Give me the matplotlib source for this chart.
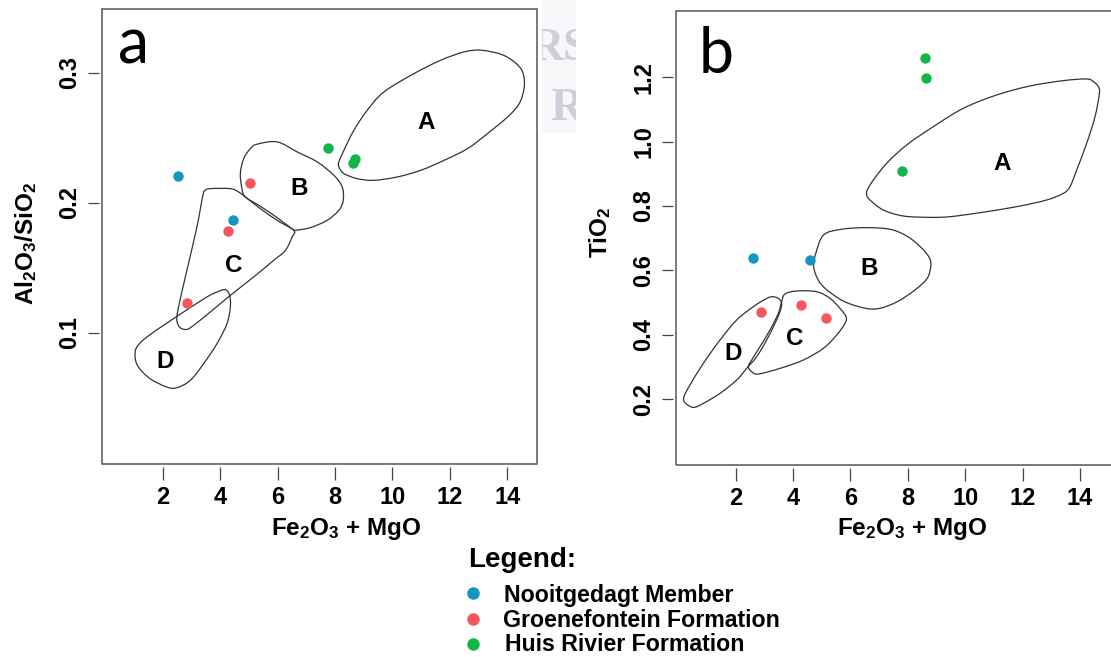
import numpy as np
import matplotlib
matplotlib.use('Agg')
import matplotlib.pyplot as plt
from matplotlib.path import Path
from matplotlib.patches import PathPatch, Rectangle
from matplotlib.lines import Line2D
from matplotlib.transforms import Bbox, TransformedBbox

plt.rcParams['font.family'] = ['Liberation Sans', 'DejaVu Sans']
plt.rcParams['mathtext.fontset'] = 'custom'
plt.rcParams['mathtext.rm'] = 'Liberation Sans:bold'
plt.rcParams['mathtext.bf'] = 'Liberation Sans:bold'
plt.rcParams['mathtext.it'] = 'Liberation Sans:bold'
plt.rcParams['mathtext.default'] = 'rm'

# ---------------- data ----------------
series_names = ['Nooitgedagt Member', 'Groenefontein Formation', 'Huis Rivier Formation']
series_colors = ['#1596bf', '#f4575c', '#10b748']

x_ticks = [2, 4, 6, 8, 10, 12, 14]
a_yticks = [0.1, 0.2, 0.3]
b_yticks = [0.2, 0.4, 0.6, 0.8, 1.0, 1.2]

# panel a : Al2O3/SiO2 vs Fe2O3+MgO
a_nooit_x = [2.52, 4.44]
a_nooit_y = [0.2205, 0.1867]
a_groen_x = [5.05, 4.29, 2.83]
a_groen_y = [0.2149, 0.1782, 0.1226]
a_huis_x = [7.77, 8.70, 8.63]
a_huis_y = [0.2423, 0.2341, 0.2308]

# panel b : TiO2 vs Fe2O3+MgO
b_nooit_x = [2.60, 4.59]
b_nooit_y = [0.637, 0.632]
b_groen_x = [2.87, 4.29, 5.15]
b_groen_y = [0.471, 0.492, 0.451]
b_huis_x = [8.59, 8.63, 7.78]
b_huis_y = [1.261, 1.197, 0.910]

# field outlines (data coordinates)
a_field_A = [(8.136, 0.2276), (8.310, 0.2225), (8.775, 0.2186), (9.357, 0.2173), (10.171, 0.2199),
             (10.985, 0.2250), (11.799, 0.2327), (12.613, 0.2417), (13.311, 0.2533), (14.009, 0.2661),
             (14.416, 0.2764), (14.590, 0.2892), (14.532, 0.3008), (14.242, 0.3085), (13.776, 0.3144),
             (13.079, 0.3175), (12.497, 0.3162), (11.683, 0.3098), (10.752, 0.2995), (9.706, 0.2854),
             (9.124, 0.2713), (8.659, 0.2559), (8.310, 0.2404), (8.136, 0.2315)]
a_field_B = [(5.285, 0.2451), (5.983, 0.2469), (6.681, 0.2392), (7.379, 0.2315), (7.960, 0.2212),
             (8.251, 0.2122), (8.286, 0.2019), (8.135, 0.1942), (7.728, 0.1865), (7.146, 0.1809),
             (6.623, 0.1788), (6.542, 0.1793), (5.983, 0.1886), (5.402, 0.1973), (4.878, 0.2045),
             (4.762, 0.2109), (4.704, 0.2225), (4.820, 0.2340), (5.053, 0.2417)]
a_field_C = [(3.483, 0.2096), (3.657, 0.2109), (4.355, 0.2109), (4.646, 0.2083), (4.878, 0.2045),
             (5.402, 0.1955), (5.983, 0.1865), (6.565, 0.1788), (6.507, 0.1737), (6.274, 0.1634),
             (5.867, 0.1557), (5.169, 0.1429), (4.355, 0.1287), (3.657, 0.1159), (3.076, 0.1056),
             (2.843, 0.1025), (2.610, 0.1038), (2.494, 0.1095), (2.552, 0.1197), (2.843, 0.1480),
             (3.192, 0.1814), (3.401, 0.2058)]
a_field_D = [(4.180, 0.1331), (4.332, 0.1287), (4.355, 0.1197), (4.239, 0.1069), (3.890, 0.0915),
             (3.425, 0.0761), (2.959, 0.0632), (2.494, 0.0576), (2.145, 0.0581), (1.564, 0.0645),
             (1.157, 0.0735), (1.040, 0.0812), (1.098, 0.0889), (1.447, 0.0966), (2.029, 0.1056),
             (2.727, 0.1159), (3.541, 0.1275), (3.890, 0.1313)]

b_field_A = [(6.565, 0.8342), (6.681, 0.8186), (7.146, 0.7875), (7.843, 0.7689), (8.773, 0.7647),
             (9.470, 0.7668), (10.515, 0.7792), (11.793, 0.7979), (12.839, 0.8186), (13.420, 0.8393),
             (13.652, 0.8601), (13.885, 0.9119), (14.233, 0.9948), (14.524, 1.0777), (14.675, 1.1502),
             (14.640, 1.1709), (14.466, 1.1865), (14.233, 1.1947), (13.420, 1.1896), (12.258, 1.1730),
             (11.096, 1.1450), (9.934, 1.1036), (8.889, 1.0466), (7.959, 0.9896), (7.262, 0.9326),
             (6.798, 0.8808), (6.588, 0.8497)]
b_field_B = [(5.062, 0.7098), (5.674, 0.7274), (6.531, 0.7326), (7.389, 0.7274), (8.001, 0.7046),
             (8.491, 0.6683), (8.760, 0.6373), (8.797, 0.6114), (8.674, 0.5751), (8.246, 0.5388),
             (7.633, 0.5026), (7.021, 0.4819), (6.531, 0.4819), (5.796, 0.5026), (5.184, 0.5388),
             (4.878, 0.5699), (4.719, 0.6114), (4.792, 0.6528)]
b_field_C = [(3.718, 0.5264), (4.125, 0.5357), (4.822, 0.5336), (5.287, 0.5129), (5.635, 0.4818),
             (5.845, 0.4559), (5.810, 0.4352), (5.519, 0.3989), (5.054, 0.3575), (4.357, 0.3212),
             (3.544, 0.2953), (2.789, 0.2777), (2.557, 0.2850), (2.440, 0.3005), (2.557, 0.3212),
             (2.847, 0.3627), (3.196, 0.4145), (3.486, 0.4663), (3.602, 0.5026)]
b_field_D = [(3.254, 0.5181), (3.486, 0.5129), (3.602, 0.4974), (3.544, 0.4715), (3.370, 0.4352),
             (3.079, 0.3834), (2.731, 0.3316), (2.382, 0.2953), (2.034, 0.2590), (1.453, 0.2176),
             (0.872, 0.1865), (0.523, 0.1741), (0.233, 0.1886), (0.198, 0.2072), (0.407, 0.2435),
             (0.872, 0.3109), (1.453, 0.3834), (2.034, 0.4456), (2.615, 0.4870), (3.021, 0.5098)]

field_names = ['A', 'B', 'C', 'D']
a_label_x = [11.19, 6.74, 4.47, 2.09]
a_label_y = [0.2615, 0.2109, 0.1518, 0.0774]
b_label_x = [11.28, 6.66, 4.07, 1.92]
b_label_y = [0.933, 0.606, 0.389, 0.342]

# ---------------- figure ----------------
W, H = 1111, 657
fig = plt.figure(figsize=(W / 100, H / 100), dpi=100)
fig.patch.set_facecolor('white')


def fx(px):
    return px / W


def fy(py):
    return 1 - py / H


def smooth_closed_path(pts):
    P = np.asarray(pts, float)
    n = len(P)
    verts = [P[0]]
    codes = [Path.MOVETO]
    for i in range(n):
        p0 = P[(i - 1) % n]
        p1 = P[i]
        p2 = P[(i + 1) % n]
        p3 = P[(i + 2) % n]
        c1 = p1 + (p2 - p0) / 6.0
        c2 = p2 - (p3 - p1) / 6.0
        verts += [c1, c2, p2]
        codes += [Path.CURVE4] * 3
    return Path(verts, codes)


def setup(ax, xlim, ylim, yticks, yfmt):
    ax.set_xlim(xlim)
    ax.set_ylim(ylim)
    for s in ax.spines.values():
        s.set_visible(False)
    ax.spines['bottom'].set_position(('outward', 2.2))
    ax.spines['left'].set_position(('outward', 2.2))
    ax.set_xticks(x_ticks)
    ax.set_xticklabels([str(t) for t in x_ticks])
    ax.set_yticks(yticks)
    ax.set_yticklabels([yfmt.format(t) for t in yticks], rotation=90, va='center')
    ax.tick_params(axis='x', length=9.4, width=0.9, color='#444444', pad=4.5, labelsize=17)
    ax.tick_params(axis='y', length=7.9, width=0.9, color='#444444', pad=5.0, labelsize=17)
    for lbl in ax.get_xticklabels() + ax.get_yticklabels():
        lbl.set_fontweight('bold')
    ax.add_patch(Rectangle((0, 0), 1, 1, transform=ax.transAxes, fill=False,
                           ec='#555555', lw=1.1, clip_on=False, zorder=5))


def draw_panel(ax, fields, lx, ly, series):
    for f in fields:
        ax.add_patch(PathPatch(smooth_closed_path(f), fill=False, ec='#333333', lw=0.9, zorder=2))
    for name, x, y in zip(field_names, lx, ly):
        ax.text(x, y, name, ha='center', va='center', fontsize=17.5, fontweight='bold', zorder=3)
    for (xs, ys), c in zip(series, series_colors):
        ax.plot(xs, ys, 'o', ms=6.5, color=c, mec=c, zorder=4)


# panel a
ax1 = fig.add_axes([fx(101.8), fy(463.8), fx(536.6) - fx(101.8), fy(9.3) - fy(463.8)])
setup(ax1, (-0.12, 15.02), (-0.001, 0.349), a_yticks, '{:.1f}')
draw_panel(ax1, [a_field_A, a_field_B, a_field_C, a_field_D], a_label_x, a_label_y,
           [(a_nooit_x, a_nooit_y), (a_groen_x, a_groen_y), (a_huis_x, a_huis_y)])

# panel b
ax2 = fig.add_axes([fx(676), fy(465), fx(1113) - fx(676), fy(11) - fy(465)])
setup(ax2, (-0.08, 15.15), (-0.005, 1.406), b_yticks, '{:.1f}')
draw_panel(ax2, [b_field_A, b_field_B, b_field_C, b_field_D], b_label_x, b_label_y,
           [(b_nooit_x, b_nooit_y), (b_groen_x, b_groen_y), (b_huis_x, b_huis_y)])

# axis labels
fig.text(fx(346), fy(535), r'Fe$_2$O$_3$ + MgO', ha='center', va='baseline', fontsize=17.5, fontweight='bold')
fig.text(fx(912), fy(535), r'Fe$_2$O$_3$ + MgO', ha='center', va='baseline', fontsize=17.5, fontweight='bold')
fig.text(fx(26), fy(243), r'Al$_2$O$_3$/SiO$_2$', ha='center', va='center', rotation=90,
         fontsize=17.5, fontweight='bold')
fig.text(fx(600), fy(232), r'TiO$_2$', ha='center', va='center', rotation=90,
         fontsize=17.5, fontweight='bold')

# panel letters
fig.text(fx(118), fy(63.3), 'a', ha='left', va='baseline', fontsize=45, family=['Lato', 'DejaVu Sans'])
fig.text(fx(699), fy(73.3), 'b', ha='left', va='baseline', fontsize=45, family=['Lato', 'DejaVu Sans'])

# faint background watermark between panels
fig.patches.append(Rectangle((fx(542), fy(133)), fx(576) - fx(542), fy(0) - fy(133),
                             transform=fig.transFigure, fc='#f7f7f9', ec='none', zorder=0))
clip = TransformedBbox(Bbox.from_extents(fx(542), fy(133), fx(576), fy(0)), fig.transFigure)
for txt, px, py in [('RS', 530, 60), ('R', 550, 120)]:
    t = fig.text(fx(px), fy(py), txt, ha='left', va='baseline', fontsize=33, fontweight='bold',
                 color='#cdd0da', family=['Liberation Serif', 'DejaVu Serif'])
    t.set_clip_box(clip)
    t.set_clip_on(True)

# legend
fig.text(fx(468), fy(567.3), 'Legend:', ha='left', va='baseline', fontsize=20, fontweight='bold')
leg_marker_y = [593.3, 619.3, 644.3]
leg_text_x = [504, 503, 505]
leg_text_base = [601.7, 627.3, 651.0]
for name, c, my, tx, ty in zip(series_names, series_colors, leg_marker_y, leg_text_x, leg_text_base):
    fig.add_artist(Line2D([fx(473.3)], [fy(my)], marker='o', ms=8, color=c, mec=c,
                          transform=fig.transFigure))
    fig.text(fx(tx), fy(ty), name, ha='left', va='baseline', fontsize=16.7, fontweight='bold')

fig.savefig('out.png', dpi=100, facecolor='white')
